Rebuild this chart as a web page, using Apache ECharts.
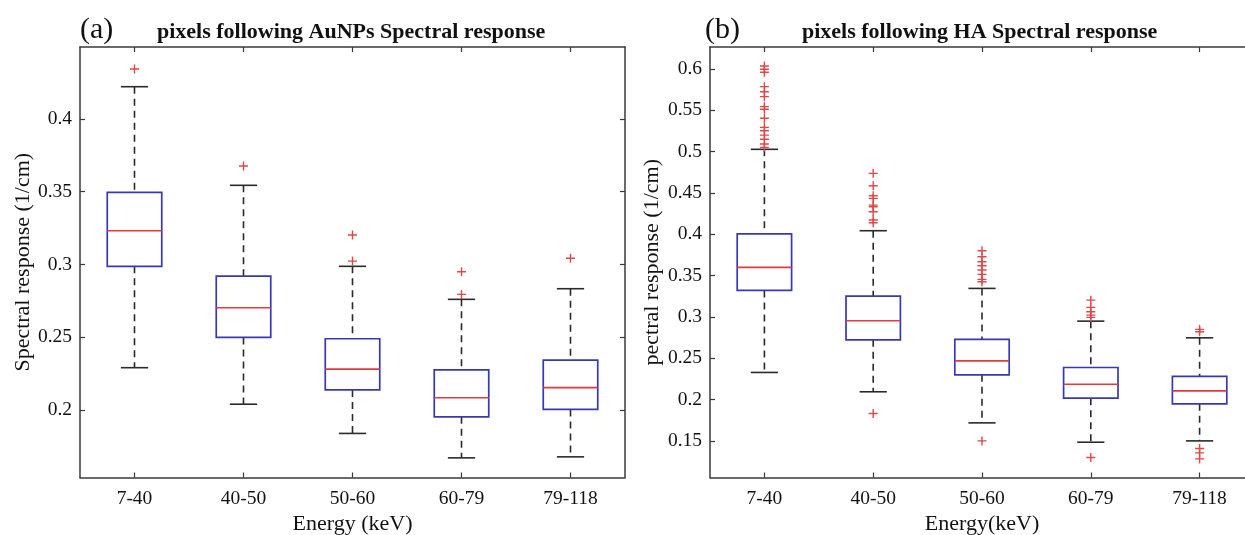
<!DOCTYPE html>
<html><head><meta charset="utf-8">
<script src="https://cdn.jsdelivr.net/npm/echarts@6/dist/echarts.min.js"></script>
<style>html,body{margin:0;padding:0;background:#fff}#c{width:1245px;height:535px}</style>
</head><body><div id="c"></div>
<script>
const categories = ['7-40', '40-50', '50-60', '60-79', '79-118'];
// each box: [lower whisker, Q1, median, Q3, upper whisker]
const auBoxes = [
  [0.2290, 0.2987, 0.3232, 0.3496, 0.4222],
  [0.2039, 0.2498, 0.2702, 0.2920, 0.3544],
  [0.1838, 0.2137, 0.2280, 0.2489, 0.2987],
  [0.1670, 0.1952, 0.2083, 0.2275, 0.2760],
  [0.1677, 0.2003, 0.2153, 0.2342, 0.2833]
];
const auOutliers = [[0.4344], [0.3677], [0.3202, 0.3023], [0.2950, 0.2794], [0.3042]];
const haBoxes = [
  [0.2328, 0.3320, 0.3600, 0.4006, 0.5028],
  [0.2094, 0.2723, 0.2953, 0.3252, 0.4043],
  [0.1718, 0.2299, 0.2468, 0.2728, 0.3345],
  [0.1484, 0.2017, 0.2186, 0.2388, 0.2949],
  [0.1500, 0.1948, 0.2105, 0.2280, 0.2747]
];
const haOutliers = [
  [0.6036, 0.5996, 0.5960, 0.5786, 0.5725, 0.5665, 0.5544, 0.5512, 0.5403, 0.5294, 0.5253, 0.5200, 0.5149, 0.5092, 0.5052],
  [0.4737, 0.4588, 0.4466, 0.4434, 0.4353, 0.4333, 0.4273, 0.4172, 0.4140, 0.1831],
  [0.3800, 0.3728, 0.3667, 0.3619, 0.3567, 0.3515, 0.3454, 0.3425, 0.1500],
  [0.3203, 0.3115, 0.3062, 0.3022, 0.2994, 0.1299],
  [0.2849, 0.2820, 0.1408, 0.1355, 0.1282]
];
const auTicks = [0.2, 0.25, 0.3, 0.35, 0.4];
const haTicks = [0.15, 0.2, 0.25, 0.3, 0.35, 0.4, 0.45, 0.5, 0.55, 0.6];
const auRange = [0.1535, 0.4495];
const haRange = [0.1057, 0.6266];

const FONT = '"Liberation Serif", "Times New Roman", serif';
const AXC = '#3a3a3a';
const BLUE = '#3838b4';
const RED = '#e23b3b';

function renderBox(params, api) {
  const i = api.value(0);
  const lo = api.coord([i, api.value(1)]);
  const q1 = api.coord([i, api.value(2)]);
  const md = api.coord([i, api.value(3)]);
  const q3 = api.coord([i, api.value(4)]);
  const hi = api.coord([i, api.value(5)]);
  const band = api.size([1, 0])[0];
  const x = lo[0];
  const hw = band * 0.25, cw = band * 0.125;
  const dash = {stroke: '#2a2a2a', lineWidth: 1.6, lineDash: [7, 5]};
  const solid = {stroke: '#2a2a2a', lineWidth: 1.6};
  return {type: 'group', children: [
    {type: 'line', shape: {x1: x, y1: hi[1], x2: x, y2: q3[1]}, style: dash},
    {type: 'line', shape: {x1: x, y1: q1[1], x2: x, y2: lo[1]}, style: dash},
    {type: 'line', shape: {x1: x - cw, y1: hi[1], x2: x + cw, y2: hi[1]}, style: solid},
    {type: 'line', shape: {x1: x - cw, y1: lo[1], x2: x + cw, y2: lo[1]}, style: solid},
    {type: 'rect', shape: {x: x - hw, y: q3[1], width: 2 * hw, height: q1[1] - q3[1]},
      style: {fill: 'none', stroke: BLUE, lineWidth: 1.7}},
    {type: 'line', shape: {x1: x - hw, y1: md[1], x2: x + hw, y2: md[1]}, style: {stroke: RED, lineWidth: 1.6}}
  ]};
}

function xAxes(gi, name) {
  const line = {show: true, lineStyle: {color: AXC, width: 1.5}};
  const tick = {show: true, inside: true, alignWithLabel: true, length: 5, lineStyle: {color: AXC, width: 1.2}};
  return [
    {gridIndex: gi, type: 'category', data: categories, position: 'bottom',
      axisLine: line, axisTick: tick, splitLine: {show: false},
      axisLabel: {fontFamily: FONT, fontSize: 19.5, color: '#111', margin: 11},
      name: name, nameLocation: 'middle', nameGap: 32,
      nameTextStyle: {fontFamily: FONT, fontSize: 22, color: '#111'}},
    {gridIndex: gi, type: 'category', data: categories, position: 'top',
      axisLine: line, axisTick: tick, axisLabel: {show: false}, splitLine: {show: false}}
  ];
}
function yAxes(gi, range, ticks, name, gap) {
  const line = {show: true, lineStyle: {color: AXC, width: 1.5}};
  const tick = {show: true, inside: true, length: 5, customValues: ticks, lineStyle: {color: AXC, width: 1.2}};
  return [
    {gridIndex: gi, type: 'value', min: range[0], max: range[1], position: 'left',
      axisLine: line, axisTick: tick, splitLine: {show: false},
      axisLabel: {customValues: ticks, fontFamily: FONT, fontSize: 19.5, color: '#111', margin: 8,
        formatter: v => String(+v.toFixed(2))},
      name: name, nameLocation: 'middle', nameGap: gap, nameRotate: 90,
      nameTextStyle: {fontFamily: FONT, fontSize: 22, color: '#111'}},
    {gridIndex: gi, type: 'value', min: range[0], max: range[1], position: 'right',
      axisLine: line, axisTick: tick, axisLabel: {show: false}, splitLine: {show: false}}
  ];
}
function outlierData(arr) {
  const out = [];
  arr.forEach((vals, i) => vals.forEach(v => out.push([i, v])));
  return out;
}
function series(xi, yi, boxes, outliers) {
  return [
    {type: 'custom', xAxisIndex: xi, yAxisIndex: yi, renderItem: renderBox,
      encode: {x: 0, y: [1, 2, 3, 4, 5]}, clip: false,
      data: boxes.map((b, i) => [i].concat(b))},
    {type: 'scatter', xAxisIndex: xi, yAxisIndex: yi, symbol: 'path://M0,5L10,5M5,0L5,10',
      symbolSize: 9, itemStyle: {color: 'rgba(0,0,0,0)', borderColor: '#e04848', borderWidth: 1.4, opacity: 1},
      data: outlierData(outliers)}
  ];
}

const chart = echarts.init(document.getElementById('c'), null, {renderer: 'canvas'});
const titleStyle = {fontFamily: FONT, fontWeight: 'bold', fontSize: 22, color: '#111'};
const tagStyle = {fontFamily: FONT, fontWeight: 'normal', fontSize: 30, color: '#111'};
chart.setOption({
  backgroundColor: '#fff',
  animation: false,
  title: [
    {text: '(a)', left: 80, top: 15, padding: 0, textStyle: tagStyle},
    {text: 'pixels following AuNPs Spectral response', left: 157, top: 21, padding: 0, textStyle: titleStyle},
    {text: '(b)', left: 705, top: 15, padding: 0, textStyle: tagStyle},
    {text: 'pixels following HA Spectral response', left: 802, top: 21, padding: 0, textStyle: titleStyle}
  ],
  grid: [
    {left: 80, top: 47, width: 545, height: 430.5, outerBoundsMode: 'none', containLabel: false},
    {left: 710, top: 47, width: 544, height: 430.5, outerBoundsMode: 'none', containLabel: false}
  ],
  xAxis: xAxes(0, 'Energy (keV)').concat(xAxes(1, 'Energy(keV)')),
  yAxis: yAxes(0, auRange, auTicks, 'Spectral response (1/cm)', 46)
    .concat(yAxes(1, haRange, haTicks, 'pectral response (1/cm)', 47)),
  series: series(0, 0, auBoxes, auOutliers).concat(series(2, 2, haBoxes, haOutliers))
});
</script></body></html>
